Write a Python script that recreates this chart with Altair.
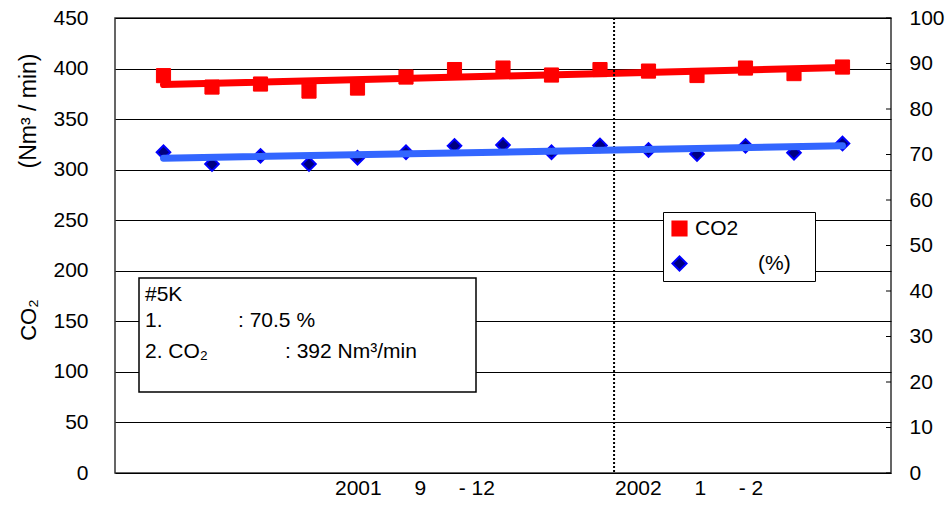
import altair as alt
import pandas as pd

# ---- data ----
months = list(range(1, 16))
co2 = [393.0, 381.7, 384.7, 377.7, 380.7, 391.6, 399.0, 400.5, 393.6, 399.0, 397.5, 393.1, 400.5, 395.0, 401.5]
rate = [70.5, 67.9, 69.7, 67.9, 69.3, 70.5, 71.9, 72.1, 70.5, 72.0, 71.0, 70.1, 71.9, 70.4, 72.4]
series_names = ["CO2", "\u200b\u3000\u3000\u3000(%)\u00a0\u00a0\u00a0\u200b"]
divider = [10.29]
left_ticks = list(range(0, 451, 50))
right_ticks = list(range(0, 101, 10))
xlabels = ["2001\u00a0\u3000\u00a09\u00a0\u3000\u00a0-\u00a012", "2002\u00a0\u3000\u00a01\u00a0\u3000\u00a0-\u00a02"]
box_lines = ["#5K", "1.", ": 70.5 %", "2. CO\u2082", ": 392 Nm\u00b3/min"]
ytitle = ["(Nm\u00b3\u00a0/\u00a0min)", "CO\u2082"]

W, H = 776, 455
FONT = "Liberation Sans, Arial, sans-serif"
FS = 21

co2_df = pd.DataFrame({"m": months, "v": co2, "s": series_names[0]})
rate_df = pd.DataFrame({"m": months, "v": rate, "s": series_names[1]})
one = pd.DataFrame({"a": [0]})

x_enc = alt.X("m:Q", scale=alt.Scale(domain=[0, 16], nice=False, zero=False), axis=None)

left_y = alt.Y("v:Q", scale=alt.Scale(domain=[0, 450], nice=False),
               axis=alt.Axis(orient="left", values=left_ticks, grid=True, gridColor="#000000",
                             gridWidth=1, ticks=False, domain=False, labelPadding=27,
                             labelFontSize=FS, labelFont=FONT, labelColor="black", title=None))
right_y = alt.Y("v:Q", scale=alt.Scale(domain=[0, 100], nice=False),
                axis=alt.Axis(orient="right", values=right_ticks, grid=False, ticks=False,
                              domain=False, labelPadding=18, labelFontSize=FS, labelFont=FONT,
                              labelColor="black", title=None))

fill_scale = alt.Scale(domain=series_names, range=["#ff0000", "#000080"])
stroke_scale = alt.Scale(domain=series_names, range=["#ff0000", "#0000ff"])
shape_scale = alt.Scale(domain=series_names, range=["square", "diamond"])

leg = alt.Legend(title=None, orient="none", legendX=548, legendY=194,
                 labelFontSize=FS, labelFont=FONT, labelColor="black",
                 symbolSize=200, symbolStrokeWidth=2, padding=6, rowPadding=12,
                 labelOffset=5, strokeColor="black", fillColor="white", labelLimit=400)

enc_common = dict(
    fill=alt.Fill("s:N", scale=fill_scale, legend=leg),
    stroke=alt.Stroke("s:N", scale=stroke_scale, legend=leg),
    shape=alt.Shape("s:N", scale=shape_scale, legend=leg),
)

co2_pts = alt.Chart(co2_df).mark_point(filled=True, size=200, strokeWidth=1, opacity=1).encode(
    x=x_enc, y=left_y, **enc_common)
co2_fit = alt.Chart(co2_df).transform_regression("m", "v").mark_line(
    color="#ff0000", strokeWidth=7, strokeCap="round").encode(x=x_enc, y=left_y)

div_rule = alt.Chart(pd.DataFrame({"m": divider})).mark_rule(
    color="black", strokeWidth=2, strokeDash=[2, 2]).encode(x=x_enc)

box = alt.Chart(one).mark_rect(fill="white", stroke="black", strokeWidth=1.5).encode(
    x=alt.value(24), x2=alt.value(361), y=alt.value(260), y2=alt.value(374))

def txt(s, x, y, align="left", size=FS, angle=0):
    kw = dict(align=align, baseline="middle", fontSize=size, font=FONT, color="black", text=s)
    if angle:
        kw["angle"] = angle
    return alt.Chart(one).mark_text(**kw).encode(x=alt.value(x), y=alt.value(y))

texts = [
    txt(box_lines[0], 30, 277),
    txt(box_lines[1], 30, 303),
    txt(box_lines[2], 123, 303),
    txt(box_lines[3], 30, 334),
    txt(box_lines[4], 170, 334),
    txt(xlabels[0], 220, 471),
    txt(xlabels[1], 500, 471),
    txt(ytitle[0], -86, 93, align="center", size=23, angle=270),
    txt(ytitle[1], -86, 302, align="center", size=22, angle=270),
]

left_layer = alt.layer(co2_pts, co2_fit, div_rule, box, *texts)

rate_pts = alt.Chart(rate_df).mark_point(filled=True, size=185, strokeWidth=2, opacity=1).encode(
    x=x_enc, y=right_y, **enc_common)
rate_fit = alt.Chart(rate_df).transform_regression("m", "v").mark_line(
    color="#3366ff", strokeWidth=7, strokeCap="round").encode(x=x_enc, y=right_y)
rticks = alt.Chart(pd.DataFrame({"v": right_ticks})).mark_rule(color="black", strokeWidth=1).encode(
    y=right_y, x=alt.value(W - 5), x2=alt.value(W))

right_layer = alt.layer(rate_pts, rate_fit, rticks)

chart = alt.layer(left_layer, right_layer).resolve_scale(y="independent").properties(
    width=W, height=H,
    autosize=alt.AutoSizeParams(type="none"),
    padding={"left": 115, "top": 18, "right": 60, "bottom": 36},
    background="white",
).configure_view(stroke="#333333", strokeWidth=1.5)

chart.save("out.html", embed_options={"renderer": "svg", "actions": False})
